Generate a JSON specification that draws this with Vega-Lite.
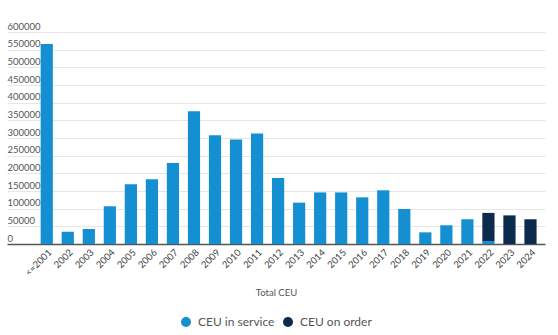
{
  "$schema": "https://vega.github.io/schema/vega-lite/v6.json",
  "autosize": {"type": "none"},
  "padding": {"left": 7, "top": 32, "right": 13, "bottom": 91},
  "width": 538,
  "height": 212,
  "background": "white",
  "config": {
    "font": "Lato",
    "view": {"stroke": null}
  },
  "data": {
    "values": [
      {"year": "<=2001", "type": "CEU in service", "ceu": 566000},
      {"year": "2002", "type": "CEU in service", "ceu": 35000},
      {"year": "2003", "type": "CEU in service", "ceu": 42500},
      {"year": "2004", "type": "CEU in service", "ceu": 106700},
      {"year": "2005", "type": "CEU in service", "ceu": 169000},
      {"year": "2006", "type": "CEU in service", "ceu": 183000},
      {"year": "2007", "type": "CEU in service", "ceu": 229000},
      {"year": "2008", "type": "CEU in service", "ceu": 376000},
      {"year": "2009", "type": "CEU in service", "ceu": 307600},
      {"year": "2010", "type": "CEU in service", "ceu": 296000},
      {"year": "2011", "type": "CEU in service", "ceu": 313000},
      {"year": "2012", "type": "CEU in service", "ceu": 187000},
      {"year": "2013", "type": "CEU in service", "ceu": 117000},
      {"year": "2014", "type": "CEU in service", "ceu": 146000},
      {"year": "2015", "type": "CEU in service", "ceu": 146000},
      {"year": "2016", "type": "CEU in service", "ceu": 132000},
      {"year": "2017", "type": "CEU in service", "ceu": 152000},
      {"year": "2018", "type": "CEU in service", "ceu": 99000},
      {"year": "2019", "type": "CEU in service", "ceu": 33000},
      {"year": "2020", "type": "CEU in service", "ceu": 53000},
      {"year": "2021", "type": "CEU in service", "ceu": 70000},
      {"year": "2022", "type": "CEU in service", "ceu": 8500},
      {"year": "2022", "type": "CEU on order", "ceu": 79500},
      {"year": "2023", "type": "CEU on order", "ceu": 81000},
      {"year": "2024", "type": "CEU on order", "ceu": 70000}
    ]
  },
  "mark": {"type": "bar"},
  "encoding": {
    "x": {
      "field": "year",
      "type": "nominal",
      "sort": null,
      "scale": {"paddingInner": 0.42, "paddingOuter": 1.25, "align": 0.8},
      "axis": {
        "title": "Total CEU",
        "titleFont": "Lato",
        "titleFontSize": 9.5,
        "titleFontWeight": "normal",
        "titleColor": "#555555",
        "titlePadding": 10,
        "labelAngle": -45,
        "labelFontSize": 9.5,
        "labelColor": "#444444",
        "labelPadding": 3,
        "ticks": false,
        "domainColor": "#555555",
        "domainWidth": 1.5,
        "grid": false
      }
    },
    "y": {
      "field": "ceu",
      "type": "quantitative",
      "stack": "zero",
      "scale": {"domain": [0, 600000]},
      "axis": {
        "title": null,
        "values": [0, 50000, 100000, 150000, 200000, 250000, 300000, 350000, 400000, 450000, 500000, 550000, 600000],
        "format": "d",
        "labelAlign": "left",
        "labelBaseline": "bottom",
        "labelPadding": 0,
        "labelOffset": -1,
        "ticks": false,
        "tickSize": 0,
        "domain": false,
        "labelFontSize": 9.5,
        "labelColor": "#555555",
        "gridColor": "#e6e6e6",
        "gridWidth": 1
      }
    },
    "color": {
      "field": "type",
      "type": "nominal",
      "scale": {"domain": ["CEU in service", "CEU on order"], "range": ["#1490d2", "#0c2a4c"]},
      "legend": {
        "title": null,
        "orient": "none",
        "legendX": 173,
        "legendY": 284,
        "direction": "horizontal",
        "symbolType": "circle",
        "symbolSize": 100,
        "symbolStrokeWidth": 0,
        "labelFontSize": 12,
        "labelColor": "#555555",
        "labelOffset": 6,
        "columnPadding": 7
      }
    },
    "order": {"field": "type", "sort": "ascending"}
  }
}
